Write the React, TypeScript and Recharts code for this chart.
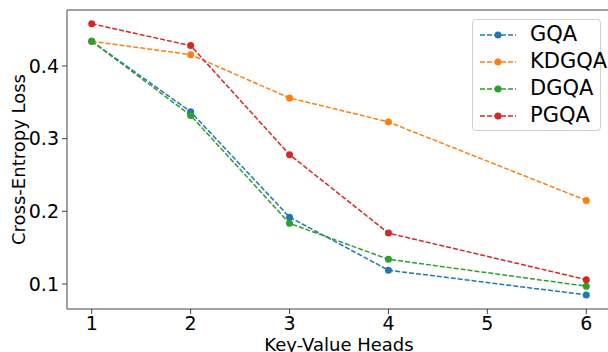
import React from 'react';
import { LineChart, Line, XAxis, YAxis, ReferenceLine } from 'recharts';

const heads = [1, 2, 3, 4, 6];
const gqa = [0.434, 0.337, 0.192, 0.119, 0.085];
const kdgqa = [0.434, 0.4155, 0.356, 0.323, 0.215];
const dgqa = [0.434, 0.332, 0.1835, 0.134, 0.097];
const pgqa = [0.458, 0.428, 0.278, 0.17, 0.106];

const xTicks = [1, 2, 3, 4, 5, 6];
const yTicks = [0.1, 0.2, 0.3, 0.4];
const xDomain = [0.75, 6.25];
const yDomain = [0.0656, 0.477];

const series = [
  { key: 'GQA', color: '#1f77b4' },
  { key: 'KDGQA', color: '#ff7f0e' },
  { key: 'DGQA', color: '#2ca02c' },
  { key: 'PGQA', color: '#d62728' },
];

const data = heads.map((h, i) => ({
  heads: h,
  GQA: gqa[i],
  KDGQA: kdgqa[i],
  DGQA: dgqa[i],
  PGQA: pgqa[i],
}));

const font = "'DejaVu Sans', sans-serif";
const axisColor = '#444';

const LegendBox = () => (
  <div style={{
    position: 'absolute',
    left: 472,
    top: 19,
    width: 129,
    height: 112,
    boxSizing: 'border-box',
    border: '1px solid #d0d0d0',
    borderRadius: 4,
    background: 'rgba(255,255,255,0.8)',
    paddingTop: 1,
    fontFamily: font,
    fontSize: 21,
    lineHeight: '27px',
    color: '#000',
  }}>
    {series.map((s) => (
      <div key={s.key} style={{ display: 'flex', alignItems: 'center', height: 27 }}>
        <svg width={51} height={12} style={{ marginLeft: 6, flexShrink: 0 }}>
          <line x1={1} y1={6} x2={37} y2={6} stroke={s.color} strokeWidth={1.5} strokeDasharray="5 2" />
          <circle cx={19} cy={6} r={3.5} fill={s.color} />
        </svg>
        <span>{s.key}</span>
      </div>
    ))}
  </div>
);

export default function App() {
  return (
    <div style={{ position: 'absolute', left: 0, top: 0, width: 608, height: 352, overflow: 'hidden', background: '#fff' }}>
      <LineChart width={611} height={352} data={data} margin={{ top: 10, right: 0, bottom: 0, left: 0 }}>
        <XAxis
          dataKey="heads"
          type="number"
          domain={xDomain}
          ticks={xTicks}
          allowDataOverflow
          height={43}
          stroke={axisColor}
          tickSize={5}
          tickMargin={3}
          tick={{ fill: '#000', fontSize: 19, fontFamily: font }}
          label={{ value: 'Key-Value Heads', position: 'insideBottom', offset: 1, fill: '#000', fontSize: 18, fontFamily: font }}
        />
        <YAxis
          type="number"
          domain={yDomain}
          ticks={yTicks}
          allowDataOverflow
          width={67}
          stroke={axisColor}
          tickSize={5}
          tickMargin={3}
          tickFormatter={(v: number) => v.toFixed(1)}
          tick={{ fill: '#000', fontSize: 19, fontFamily: font }}
          label={{ value: 'Cross-Entropy Loss', angle: -90, position: 'insideLeft', offset: 19, style: { textAnchor: 'middle' }, fill: '#000', fontSize: 18, fontFamily: font }}
        />
        <ReferenceLine y={yDomain[1]} stroke={axisColor} ifOverflow="extendDomain" />
        <ReferenceLine x={xDomain[1]} stroke={axisColor} ifOverflow="extendDomain" />
        {series.map((s) => (
          <Line
            key={s.key}
            dataKey={s.key}
            stroke={s.color}
            strokeWidth={1.5}
            strokeDasharray="5 2"
            dot={{ r: 3.5, fill: s.color, stroke: s.color, strokeWidth: 0 }}
            activeDot={false}
            isAnimationActive={false}
          />
        ))}
      </LineChart>
      <LegendBox />
    </div>
  );
}
